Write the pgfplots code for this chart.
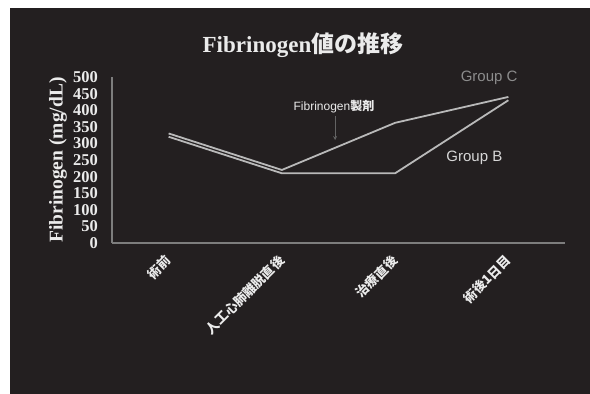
\documentclass[border=0pt]{standalone}
\usepackage{pgfplots}
\pgfplotsset{compat=1.18}
\usepackage{fontspec}
\setmainfont{Liberation Serif}
\setsansfont{Liberation Sans}
\newfontfamily\cjk{Noto Sans CJK JP}
\definecolor{bg}{RGB}{35,31,32}
\definecolor{axgray}{RGB}{125,125,125}
\definecolor{linegray}{RGB}{185,185,185}
\definecolor{cgray}{RGB}{140,140,140}
\definecolor{bgray}{RGB}{215,215,215}
\definecolor{txt}{RGB}{235,235,235}
\begin{document}
\begin{tikzpicture}[x=1pt,y=1pt]
\useasboundingbox (0,0) rectangle (590,394);
\fill[white] (0,0) rectangle (590,394);
\fill[bg] (10,0) rectangle (590,386);
\node[txt, font=\fontsize{23}{23}\selectfont\bfseries] at (303,349) {Fibrinogen{\cjk 値の推移}};
\begin{axis}[
  at={(112pt,151pt)}, anchor=south west,
  scale only axis, width=453pt, height=166pt,
  xmin=-0.5, xmax=3.5, ymin=0, ymax=500,
  axis x line=bottom, axis y line=left,
  axis line style={axgray, line width=1.8pt, -},
  xtick={0,1,2,3},
  xticklabels={術前, 人工心肺離脱直後, 治療直後, 術後1日目},
  ytick={0,50,...,500},
  major tick length=0pt,
  tick style={draw=none},
  /pgf/number format/assume math mode=true,
  yticklabel style={txt, font=\fontsize{16.5}{16.5}\selectfont\bfseries, inner sep=0pt, anchor=east},
  yticklabel shift=14pt,
  xticklabel style={txt, font=\cjk\bfseries\fontsize{13}{13}\selectfont, inner sep=0pt, rotate=45, anchor=east},
  xticklabel shift=15pt,
  every axis y label/.style={at={(axis description cs:0,0.5)}, xshift=-54pt, rotate=90, anchor=center, txt, font=\fontsize{19.5}{19.5}\selectfont\bfseries},
  ylabel={Fibrinogen (mg/dL)},
  clip=false,
]
\addplot[linegray, line width=1.8pt] coordinates {(0,330) (1,220) (2,362) (3,440)};
\addplot[linegray, line width=1.8pt] coordinates {(0,320) (1,210) (2,210) (3,430)};
\node[cgray, font=\sffamily\fontsize{15}{15}\selectfont] at (axis cs:2.83,497) {Group C};
\node[bgray, font=\sffamily\fontsize{15}{15}\selectfont] at (axis cs:2.70,256) {Group B};
\node[txt, font=\sffamily\fontsize{12}{12}\selectfont] at (axis cs:1.46,410) {Fibrinogen{\cjk\bfseries 製剤}};
\draw[axgray!120, line width=0.8pt, -stealth] (axis cs:1.47,382) -- (axis cs:1.47,310);
\end{axis}
\end{tikzpicture}
\end{document}
